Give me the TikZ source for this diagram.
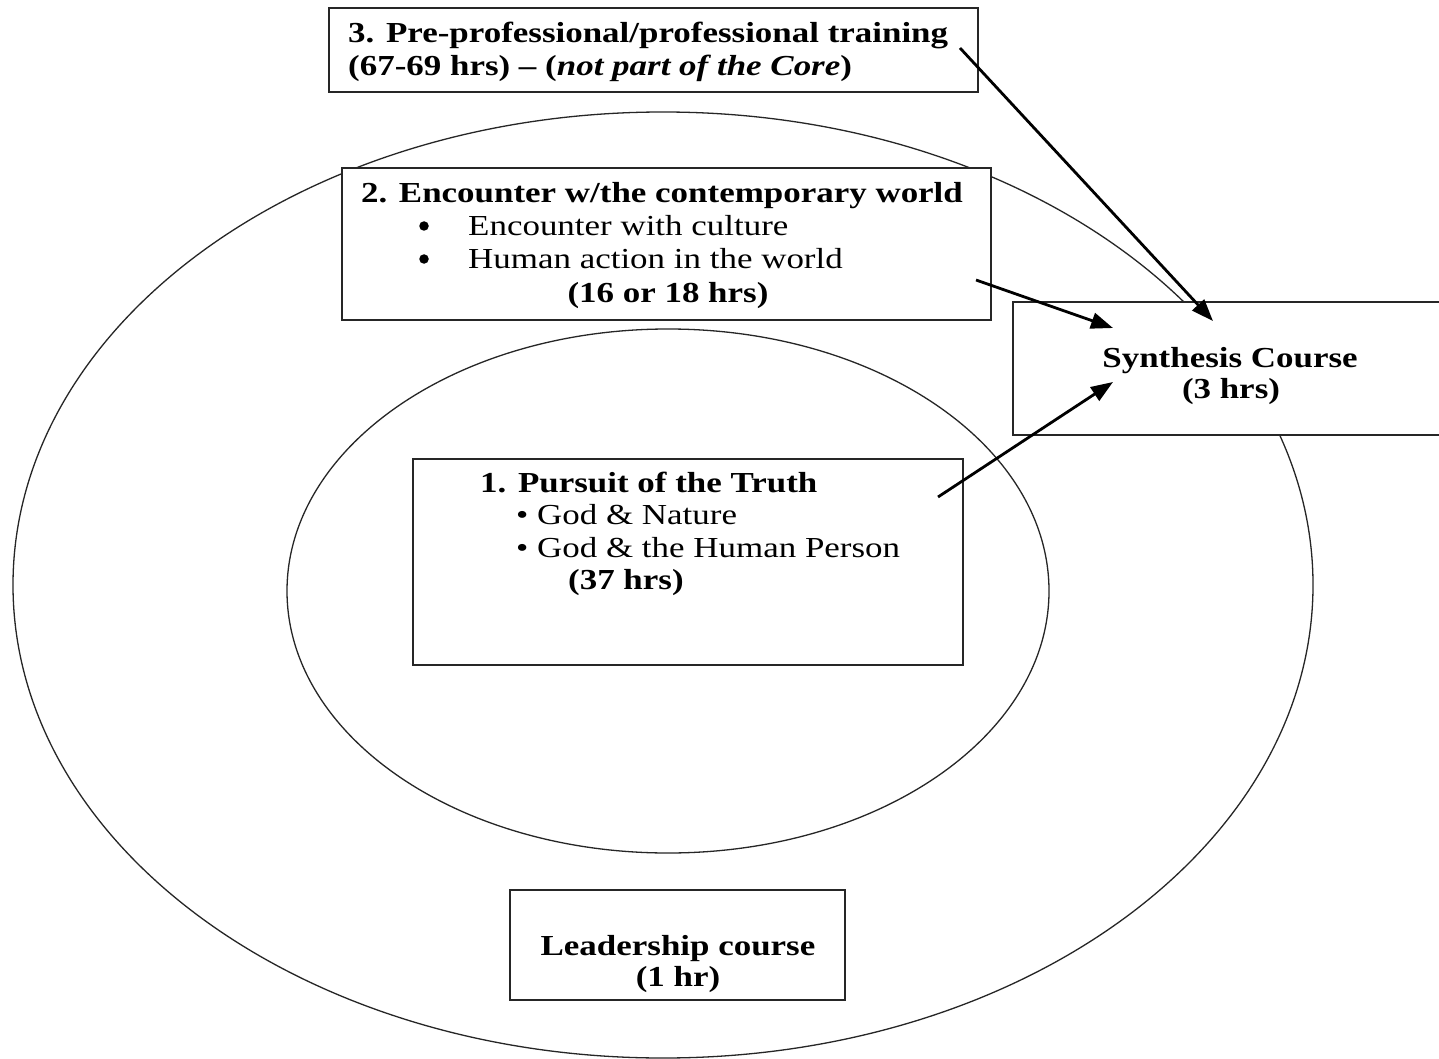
\documentclass[tikz,border=0pt]{standalone}
\usepackage{fontspec}
\setmainfont{Liberation Serif}[FakeStretch=1.205]
\usetikzlibrary{arrows.meta}
\begin{document}
\begin{tikzpicture}[x=1pt,y=-1pt,
  ring/.style={draw=black!85, line width=1.3pt},
  box/.style={draw=black!85, fill=white, line width=2pt, inner sep=0pt},
  txt/.style={inner sep=0pt, font=\fontsize{29}{33}\selectfont},
  dot/.style={circle, fill=black, inner sep=0pt, minimum size=9.5pt},
  arr/.style={draw=black, line width=2.8pt, -{Triangle[length=22pt,width=16pt]}}]
\useasboundingbox (0,0) rectangle (1439,1059);
\clip (0,0) rectangle (1439,1059);
\fill[white] (0,0) rectangle (1439,1059);
% rings
\draw[ring] (663,585) ellipse [x radius=650, y radius=473];
\draw[ring] (668,591) ellipse [x radius=381, y radius=262];
% boxes
\node[box, minimum width=649, minimum height=84] (b3) at (653.5,50) {};
\node[box, minimum width=649, minimum height=152] (b2) at (666.5,244) {};
\node[box, minimum width=460, minimum height=133] (bs) at (1243,368.5) {};
\node[box, minimum width=550, minimum height=206] (b1) at (688,562) {};
\node[box, minimum width=335, minimum height=110] (bl) at (677.5,945) {};
% texts box 3
\node[txt, anchor=base west] (t3a) at (348,43) {\bfseries 3. Pre-professional/professional training};
\node[txt, anchor=base west] (t3b) at (348,76) {\bfseries (67-69 hrs) -- (\textit{not part of the Core})};
% texts box 2
\node[txt, anchor=base] (t2a) at (662,203) {\bfseries 2. Encounter w/the contemporary world};
\node[dot] (t2d1) at (424,226) {};
\node[txt, anchor=base west] (t2b) at (468,236) {Encounter with culture};
\node[dot] (t2d2) at (424,259) {};
\node[txt, anchor=base west] (t2c) at (468,269) {Human action in the world};
\node[txt, anchor=base] (t2e) at (668,302) {\bfseries (16 or 18 hrs)};
% synthesis
\node[txt, anchor=base] (tsa) at (1230,367) {\bfseries Synthesis Course};
\node[txt, anchor=base] (tsb) at (1231,398) {\bfseries (3 hrs)};
% box 1
\node[txt, anchor=base west] (t1a) at (480,492) {\bfseries 1. Pursuit of the Truth};
\node[txt, anchor=base west] (t1b) at (516,524) {\textbullet\ God \& Nature};
\node[txt, anchor=base west] (t1c) at (516,557) {\textbullet\ God \& the Human Person};
\node[txt, anchor=base west] (t1d) at (568,589) {\bfseries (37 hrs)};
% leadership
\node[txt, anchor=base] (tla) at (678,955) {\bfseries Leadership course};
\node[txt, anchor=base] (tlb) at (678,986) {\bfseries (1 hr)};
% arrows
\coordinate (a3) at (960,48);
\coordinate (a2) at (976,280);
\coordinate (a1) at (938,497);
\coordinate (s3) at (1213,321);
\coordinate (s2) at (1113,328);
\coordinate (s1) at (1113,382);
\draw[arr] (a3) -- (s3);
\draw[arr] (a2) -- (s2);
\draw[arr] (a1) -- (s1);
\end{tikzpicture}
\end{document}
